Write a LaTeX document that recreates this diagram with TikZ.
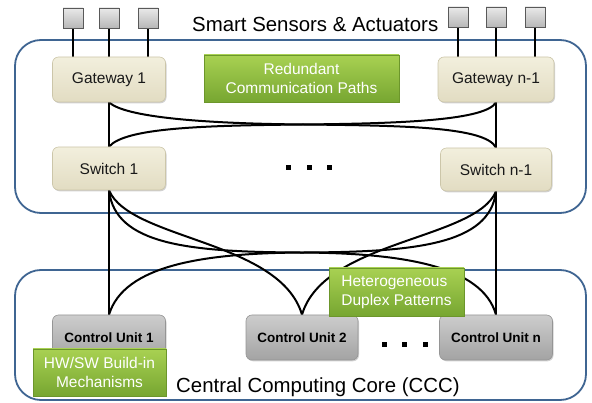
\documentclass[tikz,border=0pt]{standalone}
\usepackage{fontspec}
\setmainfont{Liberation Sans}
\usetikzlibrary{shadows,backgrounds}
\definecolor{frameblue}{HTML}{3F6592}
\definecolor{creamtop}{HTML}{F2EFDD}
\definecolor{creambot}{HTML}{E2DCC2}
\definecolor{creamline}{HTML}{CCC6A9}
\definecolor{graytop}{HTML}{CDCDCD}
\definecolor{graybot}{HTML}{A3A3A3}
\definecolor{grayline}{HTML}{959595}
\definecolor{greentop}{HTML}{A8D152}
\definecolor{greenbot}{HTML}{77A631}
\definecolor{greenline}{HTML}{6C962B}
\definecolor{sensortop}{HTML}{E9E9E9}
\definecolor{sensorbot}{HTML}{B8B8B8}
\begin{document}
\begin{tikzpicture}[x=1pt,y=-1pt,
  frame/.style={draw=frameblue, line width=1.8pt, rounded corners=26pt},
  wire/.style={draw=black, line width=2pt},
  boxshadow/.style={drop shadow={shadow xshift=1pt, shadow yshift=-1.3pt, opacity=0.3, fill=black!60}},
  creambox/.style={draw=creamline, line width=0.6pt, rounded corners=6pt,
    top color=creamtop, bottom color=creambot, boxshadow, text=black!90,
    font=\fontsize{15.5}{18}\selectfont, inner sep=0pt},
  graybox/.style={draw=grayline, line width=0.6pt, rounded corners=6pt,
    top color=graytop, bottom color=graybot, boxshadow, text=black,
    font=\fontsize{13.5}{16}\selectfont\bfseries, inner sep=0pt,
    minimum height=45pt},
  greenbox/.style={draw=greenline, line width=0.6pt,
    top color=greentop, bottom color=greenbot, boxshadow, text=white,
    font=\fontsize{15.5}{18.6}\selectfont, inner sep=0pt, align=center},
  sensor/.style={draw=black!65, line width=0.8pt, top color=sensortop,
    bottom color=sensorbot, minimum width=20pt, minimum height=20pt, inner sep=0pt},
  dotsq/.style={fill=black, minimum width=5pt, minimum height=5pt, inner sep=0pt},
  title/.style={font=\fontsize{20.4}{24}\selectfont, text=black, inner sep=0pt}
]
\useasboundingbox (0,0) rectangle (592,403);

% titles
\node[title, anchor=base west] (ttop) at (192,32) {Smart Sensors \& Actuators};
\node[title, anchor=base west] (tbot) at (176,392) {Central Computing Core (CCC)};

% sensors
\node[sensor] (s1) at (73,18) {};
\node[sensor] (s2) at (109,18) {};
\node[sensor] (s3) at (148,18) {};
\node[sensor] (s4) at (458,17) {};
\node[sensor] (s5) at (496,17) {};
\node[sensor] (s6) at (535,17) {};

% top layer boxes
\node[creambox, minimum width=113pt, minimum height=45pt] (g1) at (109,79.5) {Gateway 1};
\node[creambox, minimum width=116pt, minimum height=45pt] (gn) at (496,79.5) {Gateway n-1};
\node[creambox, minimum width=113pt, minimum height=43pt] (sw1) at (109,168.5) {Switch 1};
\node[creambox, minimum width=111pt, minimum height=43pt] (swn) at (496,169.5) {Switch n-1};

% control units
\node[graybox, minimum width=113pt] (cu1) at (109,337.5) {Control Unit 1};
\node[graybox, minimum width=112pt] (cu2) at (302,337.5) {Control Unit 2};
\node[graybox, minimum width=113pt] (cun) at (496,337.5) {Control Unit n};

% green annotation boxes
\node[greenbox, minimum width=195pt, minimum height=47pt] (red) at (301.5,78.5)
  {Redundant\\Communication Paths};
\node[greenbox, minimum width=135pt, minimum height=48pt, align=left] (het) at (396.5,292)
  {Heterogeneous\\Duplex Patterns};
\node[greenbox, minimum width=133pt, minimum height=47pt] (hw) at (99.5,372.5)
  {HW/SW Build-in\\Mechanisms};

% dots
\node[dotsq] (d1) at (288.5,168) {};
\node[dotsq] (d2) at (309,168) {};
\node[dotsq] (d3) at (329.5,168) {};
\node[dotsq] (d4) at (384,345) {};
\node[dotsq] (d5) at (404.5,345) {};
\node[dotsq] (d6) at (425.5,345) {};

\begin{pgfonlayer}{background}
% frames
\draw[frame] (15,40) rectangle (586,213);
\draw[frame] (15,270) rectangle (586,400);

% sensor wires
\foreach \s in {s1,s2,s3} \draw[wire] (\s.south) -- (\s.south |- g1.north);
\foreach \s in {s4,s5,s6} \draw[wire] (\s.south) -- (\s.south |- gn.north);

% upper wires
\draw[wire] (g1.south) -- (sw1.north);
\draw[wire] (gn.south) -- (swn.north);
\draw[wire] (g1.south) .. controls (125,117) and (200,123.5) .. (303,124.5)
   .. controls (406,125.5) and (486,127) .. (swn.north);
\draw[wire] (sw1.north) .. controls (125,128) and (200,125.5) .. (303,124.5)
   .. controls (406,123.5) and (486,120) .. (gn.south);

% lower wires
\draw[wire] (sw1.south) -- (cu1.north);
\draw[wire] (swn.south) -- (cun.north);
\draw[wire] (sw1.south) .. controls (115,245) and (190,252) .. (300,252.5)
   .. controls (400,253) and (482,265) .. (cun.north);
\draw[wire] (swn.south) .. controls (490,245) and (414,252) .. (304,252.5)
   .. controls (204,253) and (124,265) .. (cu1.north);
\draw[wire] (sw1.south) .. controls (130,240) and (280,240) .. (cu2.north);
\draw[wire] (swn.south) .. controls (476,240) and (324,240) .. (cu2.north);
\end{pgfonlayer}
\end{tikzpicture}
\end{document}
